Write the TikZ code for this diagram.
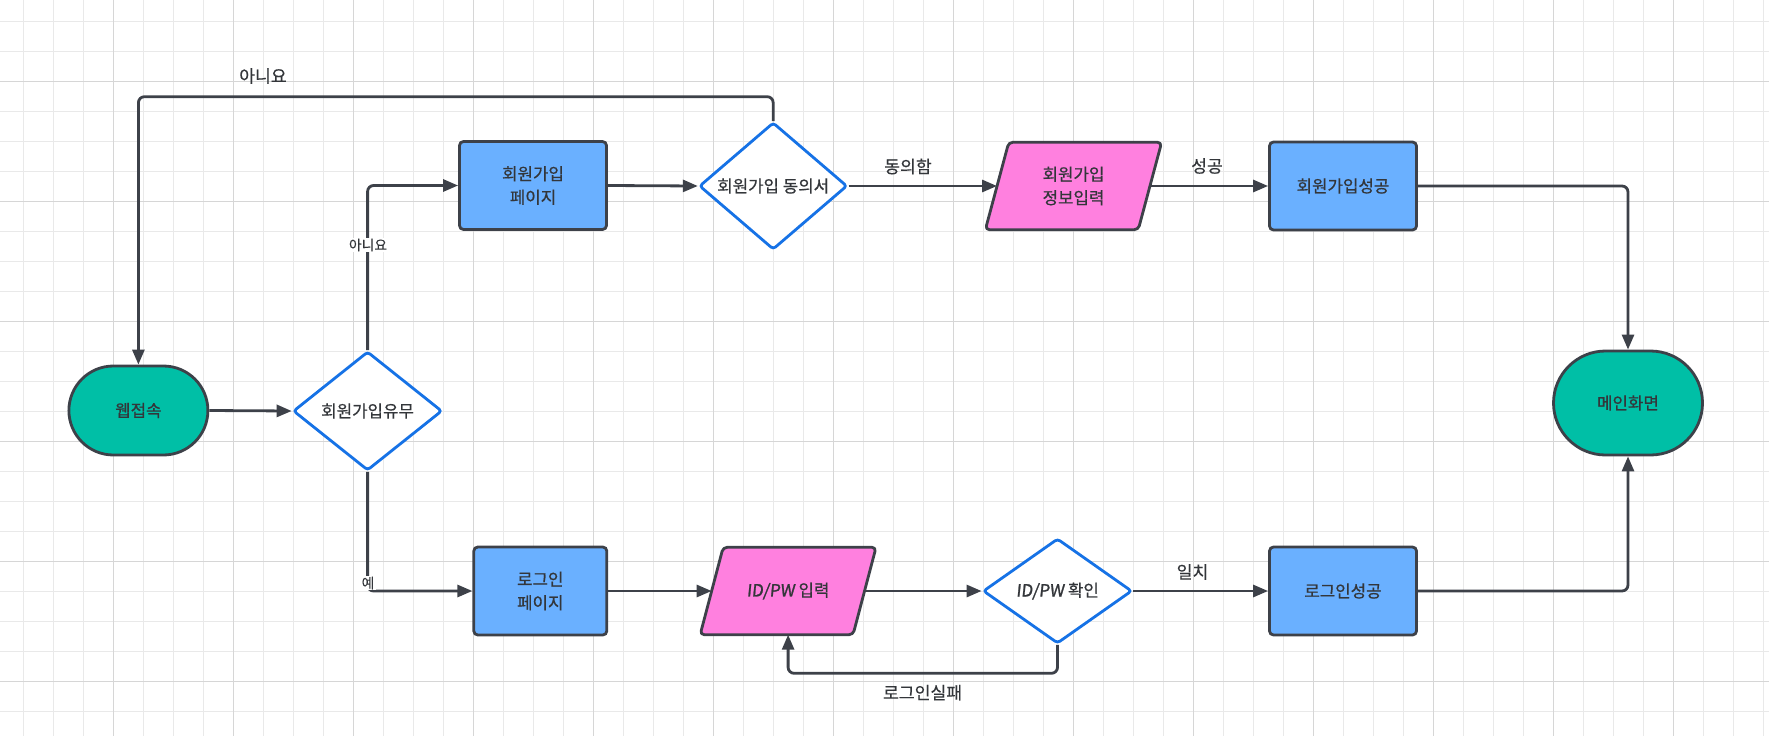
\documentclass[tikz,border=0pt]{standalone}
\usepackage{fontspec}
\setmainfont{Noto Sans CJK KR}
\newfontfamily\medfont{Noto Sans CJK KR}[FakeBold=0.7]
\newfontfamily\lblfont{Noto Sans CJK KR}[FakeBold=0.25]
\newfontfamily\idfont{Noto Sans CJK KR}[FakeBold=1.4,FakeSlant=0.1]
\usetikzlibrary{shapes.geometric,arrows.meta,calc}
\pgfdeclarelayer{bg}
\pgfsetlayers{bg,main}
\definecolor{ink}{RGB}{61,65,73}
\definecolor{txt}{RGB}{51,54,58}
\definecolor{tealfill}{RGB}{0,191,166}
\definecolor{boxblue}{RGB}{106,176,255}
\definecolor{pinkfill}{RGB}{255,128,223}
\definecolor{dblue}{RGB}{22,114,230}
\definecolor{gminor}{RGB}{233,233,233}
\definecolor{gmajor}{RGB}{214,214,214}
\begin{document}
\begin{tikzpicture}[x=1pt,y=-1pt,
  procbox/.style={rectangle, draw=ink, fill=boxblue, line width=2.8pt, rounded corners=4pt, inner sep=0pt, minimum width=147pt, minimum height=88pt, align=center, text=txt, font=\medfont\fontsize{16.8}{23.5}\selectfont},
  termbox/.style={rectangle, draw=ink, fill=tealfill, line width=2.8pt, inner sep=0pt, align=center, text=txt, font=\medfont\fontsize{16.8}{23.5}\selectfont},
  decbox/.style={diamond, draw=dblue, fill=white, line width=2.8pt, rounded corners=3pt, inner sep=0pt, align=center, text=txt, font=\medfont\fontsize{16.8}{23.5}\selectfont},
  parabox/.style={rectangle, inner sep=0pt, minimum height=87pt, minimum width=152.5pt, align=center, text=txt, font=\medfont\fontsize{16.8}{23.5}\selectfont},
  parashape/.style={draw=ink, fill=pinkfill, line width=2.8pt, rounded corners=4pt, line join=round},
  conn/.style={draw=ink, line width=2.8pt, rounded corners=6pt, -{Triangle[length=15pt,width=12pt]}},
  lbl/.style={text=txt, font=\lblfont\fontsize{17.2}{20}\selectfont, inner sep=1pt},
  slbl/.style={text=txt, fill=white, font=\lblfont\fontsize{13.8}{16}\selectfont, inner sep=1.2pt},
  gline/.style={draw=gminor, line width=0.9pt},
  gmaj/.style={draw=gmajor, line width=0.9pt}
]
\useasboundingbox (0,0) rectangle (1769,736);
\begin{pgfonlayer}{bg}
\fill[white] (0,0) rectangle (1769,736);
\foreach \i in {0,...,58} \draw[gline] ({23.3+30*\i},0) -- ({23.3+30*\i},736);
\foreach \j in {0,...,24} \draw[gline] (0,{21+30*\j}) -- (1769,{21+30*\j});
\foreach \i in {0,...,13} \draw[gmaj] ({113.3+120*\i},0) -- ({113.3+120*\i},736);
\foreach \j in {0,...,5} \draw[gmaj] (0,{81+120*\j}) -- (1769,{81+120*\j});
\end{pgfonlayer}

% nodes
\node[termbox, minimum width=139pt, minimum height=89pt, rounded corners=44.5pt] (web) at (138.4,410.5) {웹접속};
\node[decbox, minimum width=149pt, minimum height=119pt] (d1) at (367.6,411) {회원가입유무};
\node[procbox] (signpage) at (533,185.5) {회원가입\\페이지};
\node[decbox, minimum width=148pt, minimum height=119pt] (d2) at (773.2,186) {회원가입 동의서};
\node[parabox] (p1) at (1073.5,186) {회원가입\\정보입력};
\node[procbox] (signok) at (1343,186) {회원가입성공};
\node[termbox, minimum width=149pt, minimum height=104pt, rounded corners=52pt] (main) at (1628,403) {메인화면};
\node[procbox, minimum width=133pt] (loginpage) at (540.3,591) {로그인\\페이지};
\node[parabox] (p2) at (788.1,591) {{\idfont ID/PW} 입력};
\node[decbox, minimum width=149pt, minimum height=105pt] (d3) at (1057.5,591) {{\idfont ID/PW} 확인};
\node[procbox] (loginok) at (1343,591) {로그인성공};

\begin{pgfonlayer}{bg}
\draw[parashape] ([xshift=11.7pt]p1.north west) -- ([xshift=11.7pt]p1.north east) -- ([xshift=-11.7pt]p1.south east) -- ([xshift=-11.7pt]p1.south west) -- cycle;
\draw[parashape] ([xshift=11.5pt]p2.north west) -- ([xshift=11.5pt]p2.north east) -- ([xshift=-11.5pt]p2.south east) -- ([xshift=-11.5pt]p2.south west) -- cycle;
\end{pgfonlayer}

\coordinate (topy) at (0,96.7);
\coordinate (boty) at (0,673.3);

% connectors
\draw[conn] (web.east) -- (d1.west);
\draw[conn] (d1.north) |- (signpage.west);
\draw[conn] (d1.south) |- (loginpage.west);
\draw[conn] (signpage.east) -- (d2.west);
\draw[conn] (d2.east) -- (p1.west);
\draw[conn] (p1.east) -- (signok.west);
\draw[conn] (signok.east) -| (main.north);
\draw[conn] (d2.north) -- (d2.north |- topy) -| (web.north);
\draw[conn] (loginpage.east) -- (p2.west);
\draw[conn] (p2.east) -- (d3.west);
\draw[conn] (d3.east) -- (loginok.west);
\draw[conn] (loginok.east) -| (main.south);
\draw[conn] (d3.south) -- (d3.south |- boty) -| (p2.south);

% labels
\node[lbl] (l1) at (263,76) {아니요};
\node[slbl] (l2) at (368,245) {아니요};
\node[slbl] (l3) at (368,583) {예};
\node[lbl] (l4) at (908,166.5) {동의함};
\node[lbl] (l5) at (1207,166) {성공};
\node[lbl] (l6) at (1192.5,572) {일치};
\node[lbl] (l7) at (922.6,692.7) {로그인실패};
\end{tikzpicture}
\end{document}
